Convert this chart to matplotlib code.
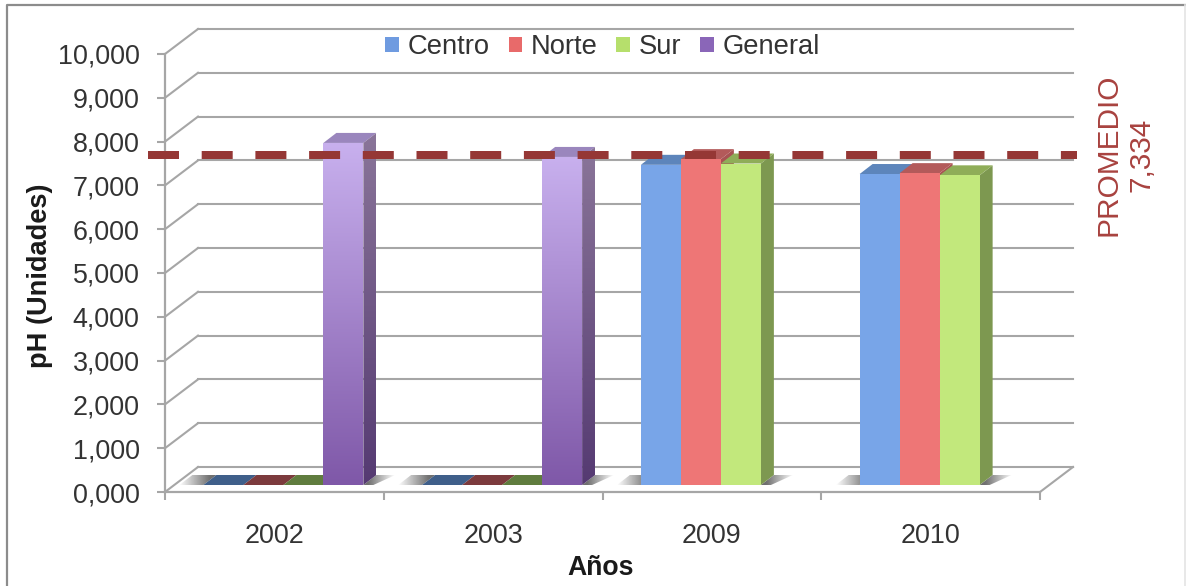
import numpy as np
from matplotlib import pyplot as plt
from matplotlib.lines import Line2D
from matplotlib.patches import Patch, Polygon
from matplotlib.colors import LinearSegmentedColormap, to_rgb

plt.rcParams["font.family"] = ["Liberation Sans", "DejaVu Sans"]

years = ["2002", "2003", "2009", "2010"]
series = ["Centro", "Norte", "Sur", "General"]
centro = [0, 0, 7.31, 7.10]
norte = [0, 0, 7.44, 7.12]
sur = [0, 0, 7.34, 7.07]
general = [7.81, 7.49, None, None]
y_labels = ["0,000", "1,000", "2,000", "3,000", "4,000", "5,000",
            "6,000", "7,000", "8,000", "9,000", "10,000"]
promedio_text = "PROMEDIO\n7,334"
promedio_level = 7.69

W, H = 1186, 586
fig = plt.figure(figsize=(W / 100, H / 100), dpi=100)
ax = fig.add_axes([165 / W, 1 - 492 / H, 875 / W, 438 / H])

# one pixel in data units
px = 4 / 875
py = 10 / 438

GRID = "#a6a6a6"
TEXT = "#333333"
faces = {"Centro": ("#78a5e8", "#5d85bb", "#4f719f", "#3f5f8a"),
         "Norte": ("#ee7676", "#b35a5a", "#a85252", "#7c3b3d"),
         "Sur": ("#c2e87c", "#8fad58", "#7d9850", "#607c3e")}

# walls
back_x, back_y = 33 * px, 25 * py
for v in range(11):
    ax.plot([0, back_x], [v, v + back_y], color=GRID, lw=1.5, clip_on=False, zorder=1)
    ax.plot([back_x, 4 + back_x], [v + back_y, v + back_y], color=GRID, lw=1.5,
            clip_on=False, zorder=1)
ax.plot([4, 4 + back_x], [0, back_y], color=GRID, lw=1.5, clip_on=False, zorder=1)


def gradient(poly, c1, c2, horizontal=False, alpha=None, zorder=3):
    # c1 is top (or left) colour, c2 bottom (or right)
    xs, ys = zip(*poly)
    g = np.linspace(0, 1, 128)
    g = g.reshape(1, -1) if horizontal else g.reshape(-1, 1)
    if alpha is None:
        cmap = LinearSegmentedColormap.from_list("g", [c1, c2])
        im = ax.imshow(g, cmap=cmap, aspect="auto", origin="upper", zorder=zorder,
                       extent=[min(xs), max(xs), min(ys), max(ys)])
    else:
        rgba = np.zeros(g.shape + (4,))
        rgba[..., :3] = to_rgb(c1)
        rgba[..., 3] = np.clip(alpha[0] + (alpha[1] - alpha[0]) * g, 0, 1)
        im = ax.imshow(rgba, aspect="auto", origin="upper", zorder=zorder,
                       extent=[min(xs), max(xs), min(ys), max(ys)])
    clip = Polygon(poly, transform=ax.transData, fc="none", ec="none")
    im.set_clip_path(clip)
    im.set_clip_on(True)


bw = 40 * px
depth_x, depth_y = 13 * px, 10 * py
base_y = 7 * py
shift = 9 * px


def shadow(x0, x1):
    y0, y1 = base_y, base_y + depth_y
    gradient([(x0 - 24 * px, y0), (x0, y0), (x0 + depth_x, y1), (x0 - 11 * px, y1)],
             "#707070", "#707070", horizontal=True, alpha=(0, 1.2), zorder=2)
    gradient([(x1, y0), (x1 + 10 * px, y0), (x1 + 32 * px, y1), (x1 + depth_x, y1)],
             "#707070", "#707070", horizontal=True, alpha=(1.2, 0), zorder=2)


def bar(x, v, name):
    y0 = base_y
    y1 = base_y + v
    top = [(x, y1), (x + bw, y1), (x + bw + depth_x, y1 + depth_y), (x + depth_x, y1 + depth_y)]
    side = [(x + bw, y0), (x + bw + depth_x, y0 + depth_y),
            (x + bw + depth_x, y1 + depth_y), (x + bw, y1)]
    front = [(x, y0), (x + bw, y0), (x + bw, y1), (x, y1)]
    if name == "General":
        ax.add_patch(Polygon(top, fc="#9a86bd", ec="none", zorder=4, clip_on=False))
        gradient(side, "#8a7599", "#553a72", zorder=4)
        gradient(front, "#c8b0ee", "#7f58a8", zorder=4)
    elif v == 0:
        ax.add_patch(Polygon(top, fc=faces[name][3], ec="none", zorder=4, clip_on=False))
    else:
        ax.add_patch(Polygon(side, fc=faces[name][2], ec="none", zorder=4, clip_on=False))
        ax.add_patch(Polygon(top, fc=faces[name][1], ec="none", zorder=4, clip_on=False))
        ax.add_patch(Polygon(front, fc=faces[name][0], ec="none", zorder=4, clip_on=False))


values = [centro, norte, sur, general]
for i in range(len(years)):
    start = i + 0.5 - 2 * bw + shift
    n = sum(1 for s in values if s[i] is not None)
    shadow(start, start + n * bw)
    for j, name in enumerate(series):
        v = values[j][i]
        if v is not None:
            bar(start + j * bw, v, name)

# promedio line, dashes 31 px on, 22.7 px off at 8 px thick
ax.plot([-17 * px, 4 + 37 * px], [promedio_level, promedio_level], color="#953735", lw=5.76,
        dashes=(31 / 8, 22.7 / 8), dash_capstyle="butt", clip_on=False, zorder=6)
fig.text(1125 / W, 1 - 155 / H, promedio_text, rotation=90, color="#a8423f", fontsize=21.4,
         ha="center", va="center", linespacing=1.22, multialignment="center")

ax.set_xlim(0, 4)
ax.set_ylim(0, 10)
ax.patch.set_visible(False)
for s in ["top", "right"]:
    ax.spines[s].set_visible(False)
for s in ["left", "bottom"]:
    ax.spines[s].set_color(GRID)
    ax.spines[s].set_linewidth(1.6)
    ax.spines[s].set_zorder(5)

ax.set_xticks(range(5))
ax.set_xticklabels([])
ax.set_xticks([0.5, 1.5, 2.5, 3.5], minor=True)
ax.set_xticklabels(years, minor=True, fontsize=19.4, color=TEXT)
ax.set_yticks(range(11))
ax.set_yticklabels(y_labels, fontsize=19.4, color=TEXT)
ax.tick_params(axis="both", which="major", length=5.8, width=1.5, color=GRID)
ax.tick_params(axis="y", pad=12.5)
ax.tick_params(axis="x", which="minor", length=0, pad=22.5)

fig.text(40 / W, 1 - 276 / H, "pH (Unidades)", rotation=90, fontsize=19.6, fontweight="bold",
         color="#1a1a1a", ha="center", va="center")
fig.text(601 / W, 1 - 568 / H, "Años", fontsize=19.2, fontweight="bold",
         color="#1a1a1a", ha="center", va="center")

handles = [Patch(fc="#6f9be0", ec="none"), Patch(fc="#e86a6a", ec="none"),
           Patch(fc="#b6df6c", ec="none"), Patch(fc="#8a66b8", ec="none")]
fig.legend(handles, series, ncol=4, frameon=False, fontsize=19.7, labelcolor=TEXT,
           loc="center", bbox_to_anchor=(602.5 / W, 1 - 47 / H), handlelength=0.51,
           handleheight=0.45, handletextpad=0.3, columnspacing=0.69, borderpad=0)

# outer frame of the pasted chart
fig.add_artist(Line2D([7 / W, 7 / W, 1185 / W], [0, 1 - 5 / H, 1 - 5 / H], color="#8c8c8c", lw=1.6))
fig.add_artist(Line2D([1185 / W, 1185 / W], [0, 1 - 5 / H], color="#e4e4e4", lw=1.2))

fig.savefig("out.png", dpi=100)
